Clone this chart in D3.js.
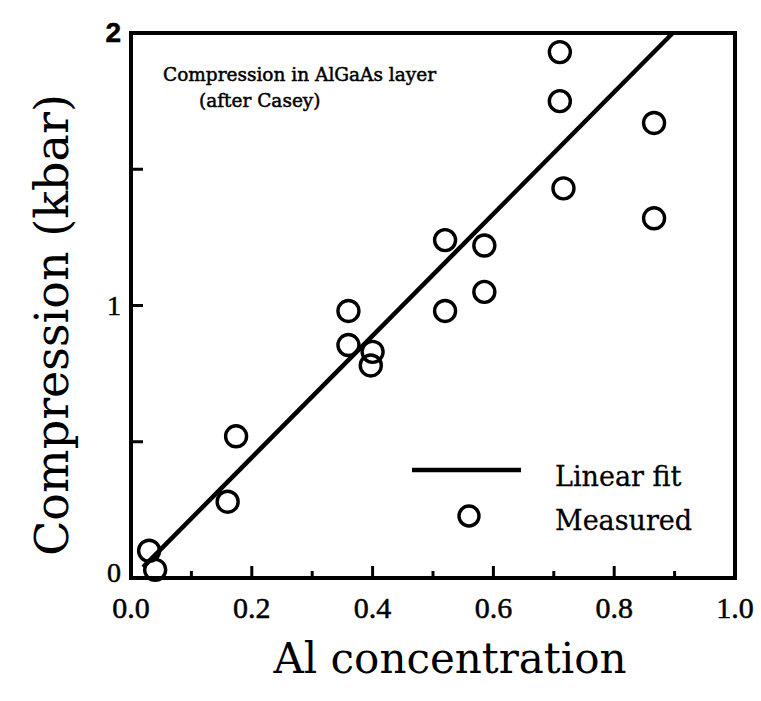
<!doctype html>
<html lang="en">
  <head>
    <meta charset="utf-8">
    <title>Compression in AlGaAs layer</title>
    <style>
    body { margin: 0; background: #fff; }
    svg text { font-family: "DejaVu Serif", serif; fill: #000; }
    .frame { fill: none; stroke: #000; stroke-width: 4; }
    .fit { stroke: #000; stroke-width: 4.5; fill: none; }
    .pt { fill: none; stroke: #000; stroke-width: 3.4; }
    </style>
  </head>
  <body>
    <svg width="761" height="701"></svg>
    <script src="https://d3js.org/d3.v7.min.js"></script>
    <script>

    // measured points (Al fraction, kbar)
    var alConc = [0.03, 0.04, 0.16, 0.174, 0.36, 0.36, 0.40, 0.397, 0.52, 0.52, 0.585, 0.585, 0.71, 0.71, 0.716, 0.866, 0.866];
    var compression = [0.10, 0.03, 0.28, 0.52, 0.98, 0.855, 0.83, 0.78, 0.98, 1.24, 1.22, 1.05, 1.93, 1.75, 1.43, 1.67, 1.32];

    // linear fit end points
    var fitX = [0.02, 0.897];
    var fitY = [0.04, 2.0];

    var xTickLabels = ["0.0", "0.2", "0.4", "0.6", "0.8", "1.0"];
    var yTickLabels = ["0", "1", "2"];

    var svg = d3.select("svg");
    var plotL = 131, plotR = 735, plotT = 33, plotB = 578;

    var x = d3.scaleLinear().domain([0, 1]).range([plotL, plotR]);
    var y = d3.scaleLinear().domain([0, 2]).range([plotB, plotT]);

    // ticks on bottom axis, pointing inward
    var xt = d3.range(1, 10).map(function(i) { return i / 10; });
    svg.append("g").selectAll("line")
        .data(xt)
      .enter().append("line")
        .attr("x1", function(d) { return x(d); })
        .attr("x2", function(d) { return x(d); })
        .attr("y1", plotB)
        .attr("y2", function(d, i) { return plotB - (i % 2 ? 12 : 7); })
        .attr("stroke", "#000")
        .attr("stroke-width", 3);

    // ticks on left axis
    svg.append("g").selectAll("line")
        .data([0.5, 1, 1.5])
      .enter().append("line")
        .attr("x1", plotL)
        .attr("x2", plotL + 12)
        .attr("y1", function(d) { return y(d); })
        .attr("y2", function(d) { return y(d); })
        .attr("stroke", "#000")
        .attr("stroke-width", 3);

    svg.append("rect")
        .attr("class", "frame")
        .attr("x", plotL).attr("y", plotT)
        .attr("width", plotR - plotL).attr("height", plotB - plotT);

    svg.append("g").selectAll("text")
        .data(xTickLabels)
      .enter().append("text")
        .attr("x", function(d) { return x(+d); })
        .attr("y", 618)
        .attr("text-anchor", "middle")
        .style("font-family", "'Liberation Serif', serif")
        .style("font-size", "30px")
        .style("stroke", "#000").style("stroke-width", 0.5)
        .text(function(d) { return d; });

    svg.append("g").selectAll("text")
        .data(yTickLabels)
      .enter().append("text")
        .attr("x", plotL - 10)
        .attr("y", function(d) { return y(+d) + (d == "0" ? 4 : 9); })
        .attr("text-anchor", "end")
        .style("font-size", "28px")
        .style("font-family", function(d) { return d == "2" ? "'Liberation Sans', sans-serif" : "'Liberation Serif', serif"; })
        .style("font-weight", function(d) { return d == "2" ? "bold" : "normal"; })
        .style("stroke", "#000").style("stroke-width", 0.5)
        .text(function(d) { return d; });

    svg.append("line")
        .attr("class", "fit")
        .attr("x1", x(fitX[0])).attr("y1", y(fitY[0]))
        .attr("x2", x(fitX[1])).attr("y2", y(fitY[1]));

    svg.append("g").selectAll("circle")
        .data(alConc)
      .enter().append("circle")
        .attr("class", "pt")
        .attr("cx", function(d) { return x(d); })
        .attr("cy", function(d, i) { return y(compression[i]); })
        .attr("r", 10.5);

    // note
    svg.append("text")
        .attr("x", 163).attr("y", 81)
        .style("font-size", "18.5px")
        .style("stroke", "#000").style("stroke-width", 0.5)
        .text("Compression in AlGaAs layer");
    svg.append("text")
        .attr("x", 199).attr("y", 107)
        .style("font-size", "18.5px")
        .style("stroke", "#000").style("stroke-width", 0.5)
        .text("(after Casey)");

    // legend
    svg.append("line")
        .attr("class", "fit")
        .attr("x1", 412).attr("x2", 521)
        .attr("y1", 470).attr("y2", 470);
    svg.append("circle")
        .attr("class", "pt")
        .attr("cx", 469).attr("cy", 516).attr("r", 10);
    svg.append("text")
        .attr("x", 555).attr("y", 486)
        .style("font-size", "27px")
        .style("stroke", "#000").style("stroke-width", 0.3)
        .text("Linear fit");
    svg.append("text")
        .attr("x", 555).attr("y", 530)
        .style("font-size", "27px")
        .style("stroke", "#000").style("stroke-width", 0.3)
        .text("Measured");

    // axis titles
    svg.append("text")
        .attr("x", 450).attr("y", 673)
        .attr("text-anchor", "middle")
        .style("font-size", "42px")
        .text("Al concentration");
    svg.append("text")
        .attr("transform", "translate(68,325) rotate(-90)")
        .attr("text-anchor", "middle")
        .style("font-size", "46px")
        .text("Compression (kbar)");

    </script>
  </body>
</html>
